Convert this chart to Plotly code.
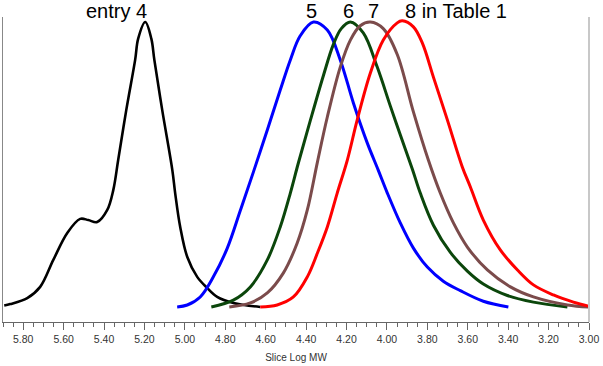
import plotly.graph_objects as go

# ---- data (x = Slice Log MW, y = normalized response) ----
entry4_x = [5.894, 5.864, 5.780, 5.716, 5.651, 5.582, 5.518, 5.478, 5.434, 5.384, 5.354, 5.330,
            5.290, 5.246, 5.231, 5.196, 5.166, 5.151, 5.112, 5.062, 5.048, 5.023, 4.988, 4.939,
            4.889, 4.840, 4.760, 4.627]
entry4_y = [0.005, 0.010, 0.031, 0.070, 0.164, 0.258, 0.307, 0.303, 0.296, 0.338, 0.408, 0.512,
            0.686, 0.861, 0.935, 0.993, 0.935, 0.861, 0.686, 0.477, 0.397, 0.279, 0.174, 0.105,
            0.066, 0.035, 0.014, 0.0]

entry5_x = [5.038, 4.988, 4.924, 4.859, 4.790, 4.726, 4.661, 4.592, 4.528, 4.478, 4.429,
            4.364, 4.295, 4.231, 4.166, 4.097, 4.043, 3.998, 3.934, 3.869, 3.800, 3.721, 3.637,
            3.523, 3.399]
entry5_y = [0.0, 0.007, 0.035, 0.105, 0.205, 0.335, 0.470, 0.617, 0.756, 0.861, 0.945,
            0.993, 0.965, 0.861, 0.711, 0.571, 0.477, 0.397, 0.293, 0.205, 0.139, 0.090, 0.057,
            0.020, 0.0]

entry6_x = [4.869, 4.760, 4.676, 4.592, 4.528, 4.478, 4.439, 4.379, 4.315, 4.265, 4.226, 4.181,
            4.117, 4.048, 3.983, 3.934, 3.874, 3.835, 3.770, 3.686, 3.602, 3.523, 3.404, 3.275,
            3.107]
entry6_y = [0.0, 0.024, 0.070, 0.164, 0.279, 0.397, 0.500, 0.650, 0.805, 0.915, 0.970, 0.993,
            0.955, 0.836, 0.700, 0.600, 0.480, 0.397, 0.285, 0.190, 0.125, 0.080, 0.040, 0.017,
            0.0]

entry7_x = [4.780, 4.676, 4.592, 4.513, 4.444, 4.394, 4.344, 4.295, 4.231, 4.181, 4.132,
            4.082, 4.018, 3.949, 3.869, 3.795, 3.736, 3.671, 3.602, 3.503, 3.389, 3.275,
            3.107, 3.003]
entry7_y = [0.0, 0.014, 0.049, 0.118, 0.223, 0.338, 0.505, 0.662, 0.836, 0.930, 0.980,
            0.993, 0.970, 0.880, 0.680, 0.512, 0.397, 0.293, 0.209, 0.129, 0.070, 0.035,
            0.007, 0.0]

entry8_x = [4.627, 4.543, 4.463, 4.394, 4.344, 4.295, 4.246, 4.196, 4.147, 4.082, 4.018, 3.949,
            3.924, 3.869, 3.825, 3.770, 3.701, 3.627, 3.587, 3.523, 3.439, 3.354, 3.275, 3.176,
            3.077, 3.003]
entry8_y = [0.0, 0.007, 0.035, 0.105, 0.188, 0.279, 0.397, 0.512, 0.652, 0.815, 0.930, 0.990,
            0.997, 0.976, 0.920, 0.801, 0.652, 0.488, 0.418, 0.303, 0.199, 0.129, 0.077, 0.042,
            0.017, 0.003]

tick_vals = [5.80, 5.60, 5.40, 5.20, 5.00, 4.80, 4.60, 4.40, 4.20, 4.00, 3.80, 3.60, 3.40, 3.20, 3.00]
tick_text = [f"{v:.2f}" for v in tick_vals]

series = [
    (entry4_x, entry4_y, "#000000", 2.6),
    (entry5_x, entry5_y, "#0000ff", 3),
    (entry6_x, entry6_y, "#0b460b", 3),
    (entry7_x, entry7_y, "#7b4b4b", 3),
    (entry8_x, entry8_y, "#ff0000", 3),
]

fig = go.Figure()
for xs, ys, col, w in series:
    fig.add_trace(go.Scatter(x=xs, y=ys, mode="lines",
                             line=dict(color=col, width=w, shape="spline", smoothing=1.0),
                             showlegend=False, hoverinfo="skip"))

font_family = "Arial, Liberation Sans, sans-serif"
labels = [("entry 4", 5.337), ("5", 4.374), ("6", 4.191), ("7", 4.067), ("8 in Table 1", 3.656)]
for txt, xv in labels:
    fig.add_annotation(x=xv, xref="x", y=1.0197, yref="paper", text=txt, showarrow=False,
                       xanchor="center", yanchor="middle",
                       font=dict(family=font_family, size=20, color="#000000"))

# right border line (light grey)
fig.add_shape(type="line", xref="paper", yref="paper", x0=1, x1=1, y0=0, y1=1,
              line=dict(color="#c8c8c8", width=2))

fig.update_layout(
    width=603, height=366,
    margin=dict(l=3, r=14, t=17, b=44),
    paper_bgcolor="white", plot_bgcolor="white",
    font=dict(family=font_family, color="#333333"),
    xaxis=dict(
        range=[5.90, 3.00],
        tickmode="array", tickvals=tick_vals, ticktext=tick_text,
        ticks="outside", ticklen=7, tickwidth=1, tickcolor="#666666",
        minor=dict(dtick=0.05, tick0=3.0, ticks="outside", ticklen=4, tickcolor="#666666", tickwidth=1,
                   showgrid=False),
        showline=True, linecolor="#666666", linewidth=1,
        showgrid=False, zeroline=False,
        tickfont=dict(size=10.5, color="#333333"),
        title=dict(text="Slice Log MW", font=dict(size=10, color="#333333"), standoff=10),
    ),
    yaxis=dict(
        range=[-0.0523, 1.0105],
        showline=True, linecolor="#888888", linewidth=1,
        showticklabels=False, ticks="", showgrid=False, zeroline=False,
    ),
)

fig.write_html("out.html", config={"displayModeBar": False},
               post_script="document.body.style.margin='0';")
